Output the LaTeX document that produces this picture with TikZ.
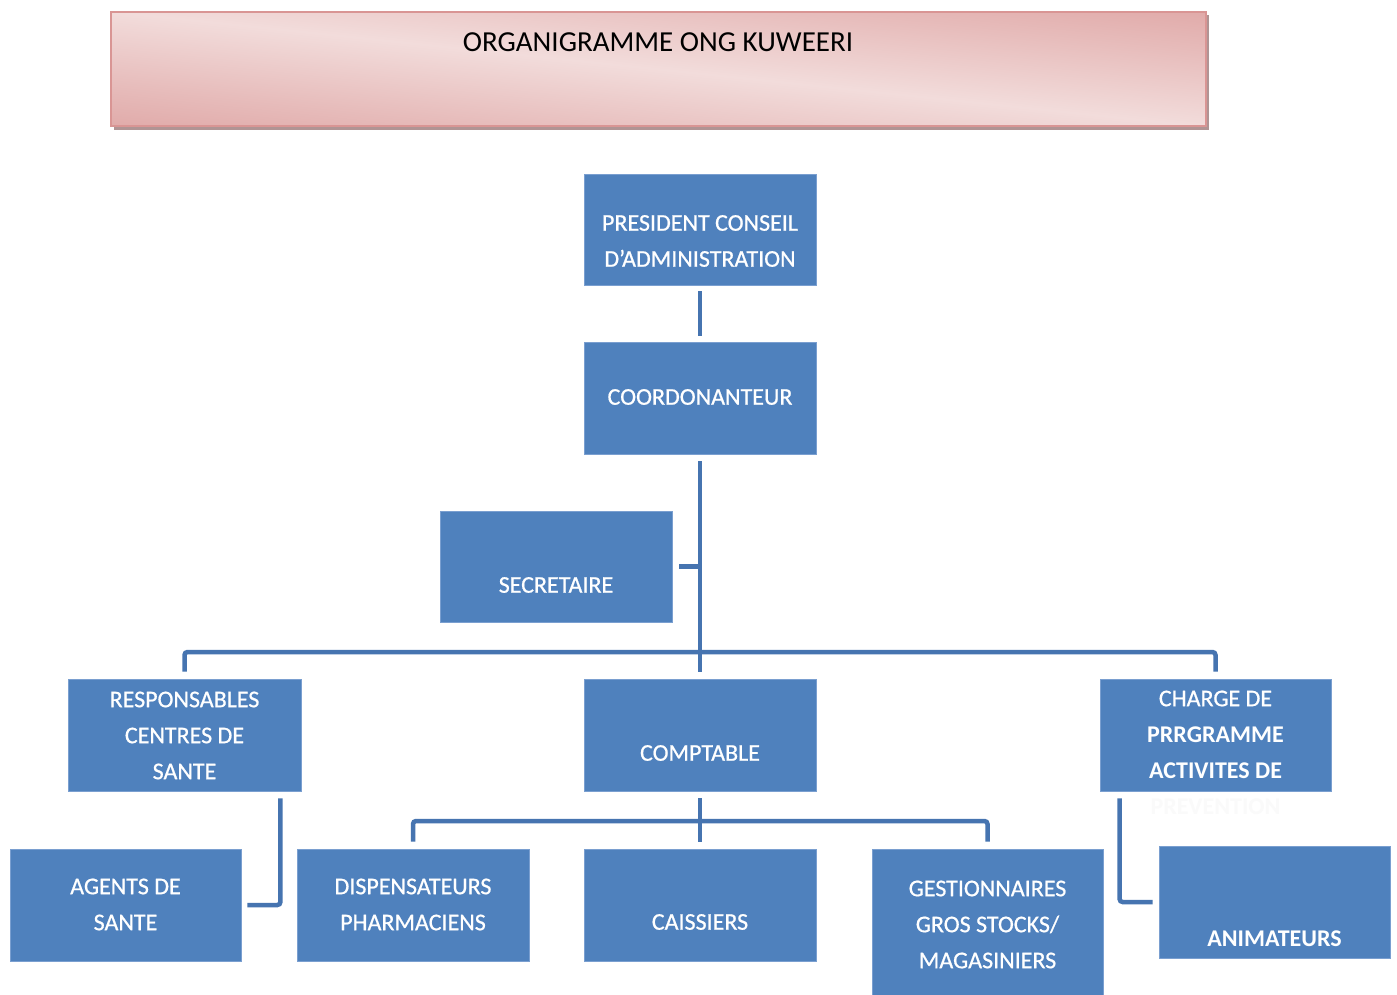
\documentclass[tikz,border=0pt]{standalone}
\usepackage{fontspec}
\setmainfont{Carlito}
\usetikzlibrary{calc}
\definecolor{boxblue}{HTML}{4F81BD}
\definecolor{boxedge}{HTML}{7A9FD0}
\definecolor{linkblue}{HTML}{4674B0}
\definecolor{pinkdark}{HTML}{D99594}
\definecolor{pinklight}{HTML}{F2DCDB}
\definecolor{shadowc}{HTML}{B09494}
\newfontfamily\boxfont[FakeBold=0.7]{Carlito}
\pgfdeclareverticalshading{banner}{100bp}{color(0bp)=(pinkdark); color(18bp)=(pinkdark); color(36bp)=(pinklight!55!pinkdark); color(50bp)=(pinklight); color(64bp)=(pinklight!55!pinkdark); color(82bp)=(pinkdark); color(100bp)=(pinkdark)}
\tikzset{
  orgbox/.style={rectangle, fill=boxblue, draw=boxedge, line width=0.8pt, inner sep=0pt,
    minimum width=232, minimum height=112},
  boxtext/.style={text=white, align=center, inner sep=0pt, font=\boxfont\fontsize{24}{36}\selectfont},
  link/.style={draw=linkblue, line width=4.5pt, rounded corners=3pt},
}
\begin{document}
\begin{tikzpicture}[x=1pt,y=-1pt]
\useasboundingbox (0,0) rectangle (1397,994);
\fill[white] (0,0) rectangle (1397,994);
% title banner
\fill[shadowc] (114,15) rectangle (1209,130);
\begin{scope}
  \clip (111,12) rectangle (1206,126);
  \shade[shading=banner, transform canvas={rotate around={-6:(658.5,69)}}]
    (-41.5,-61) rectangle (1358.5,199);
\end{scope}
\draw[pinkdark, line width=1.5pt] (111,12) rectangle (1206,126);
\node[font=\fontsize{29}{34}\selectfont, inner sep=0pt] (title) at (658,42) {ORGANIGRAMME ONG KUWEERI};

% boxes
\node[orgbox, minimum height=111] (pres) at (700,229.5) {};
\node[orgbox] (coord) at (700,398) {};
\node[orgbox, minimum height=111] (secret) at (556,566.5) {};
\node[orgbox, minimum width=233] (resp) at (184.5,735) {};
\node[orgbox] (compt) at (700,735) {};
\node[orgbox, minimum width=231] (charge) at (1215.5,735) {};
\node[orgbox, minimum width=231] (agents) at (125.5,905) {};
\node[orgbox] (disp) at (413,905) {};
\node[orgbox] (caiss) at (700,905) {};
\node[orgbox, minimum width=231, minimum height=152] (gest) at (987.5,925) {};
\node[orgbox, minimum width=231] (anim) at (1274.5,902) {};

% texts
\node[boxtext] (presT) at (700,241) {PRESIDENT CONSEIL\\D’ADMINISTRATION};
\node[boxtext] (coordT) at (700,397) {COORDONANTEUR};
\node[boxtext] (secretT) at (556,585) {SECRETAIRE};
\node[boxtext] (respT) at (184.5,735.5) {RESPONSABLES\\CENTRES DE\\SANTE};
\node[boxtext] (comptT) at (700,753) {COMPTABLE};
\node[boxtext] (chargeT) at (1215.5,734.5) {CHARGE DE\\{\rmfamily\bfseries PRRGRAMME}\\{\rmfamily\bfseries ACTIVITES DE}};
\node[boxtext, text=black!2] (chargeX) at (1215.5,807) {{\rmfamily\bfseries PREVENTION}};
\node[boxtext] (agentsT) at (125.5,904.5) {AGENTS DE\\SANTE};
\node[boxtext] (dispT) at (413,904.5) {DISPENSATEURS\\PHARMACIENS};
\node[boxtext] (caissT) at (700,922) {CAISSIERS};
\node[boxtext] (gestT) at (987.5,924.5) {GESTIONNAIRES\\GROS STOCKS/\\MAGASINIERS};
\node[boxtext] (animT) at (1274.5,939) {{\rmfamily\bfseries ANIMATEURS}};

% connectors
\coordinate (bus) at (700,652);
\coordinate (cbus) at (700,821);
\draw[link] ([yshift=-6pt]pres.south) -- ([yshift=6pt]coord.north);
\draw[link] ([yshift=-7pt]coord.south) -- ([yshift=7pt]compt.north);
\draw[link] ([xshift=7pt]secret.east) -- (secret.east -| coord.south);
\draw[link] ([yshift=7pt]resp.north) |- (bus) -| ([yshift=7pt]charge.north);
\draw[link] ([yshift=-7pt]compt.south) -- ([yshift=7pt]caiss.north);
\draw[link] ([yshift=7pt]disp.north) |- (cbus) -| ([yshift=7pt]gest.north);
\draw[link] ([xshift=-21pt,yshift=-7pt]resp.south east) |- ([xshift=6pt]agents.east);
\draw[link] ([xshift=20pt,yshift=-7pt]charge.south west) |- ([xshift=-6pt]anim.west);
\end{tikzpicture}
\end{document}
